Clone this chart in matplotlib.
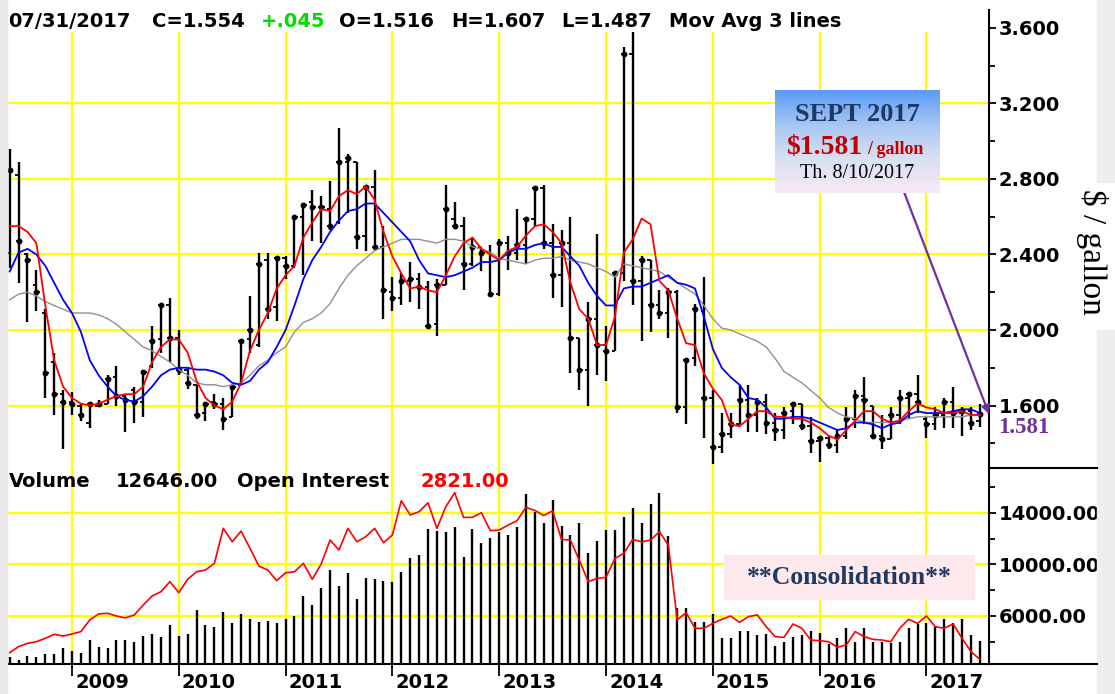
import numpy as np
import pandas as pd
import matplotlib
matplotlib.use('Agg')
import matplotlib.pyplot as plt
from matplotlib import transforms
from matplotlib.colors import LinearSegmentedColormap
from matplotlib.patches import Rectangle

plt.rcParams['font.family'] = ['DejaVu Sans']

# monthly bars, Jun 2008 .. Jul 2017
months = pd.date_range('2008-06-01', periods=110, freq='MS')

open_ = [2.41, 2.82, 2.40, 2.24, 2.09, 1.83, 1.66, 1.62, 1.60, 1.51,
         1.60, 1.61, 1.75, 1.65, 1.68, 1.62, 1.81, 1.95, 2.13, 1.96,
         1.79, 1.71, 1.56, 1.62, 1.61, 1.54, 1.71, 1.95, 1.92, 2.37,
         2.12, 2.38, 2.34, 2.60, 2.68, 2.65, 2.64, 2.57, 2.89, 2.89,
         2.50, 2.76, 2.44, 2.20, 2.17, 2.26, 2.27, 2.23, 2.03, 2.24,
         2.59, 2.55, 2.35, 2.44, 2.41, 2.19, 2.46, 2.41, 2.45, 2.59,
         2.75, 2.46, 2.29, 2.46, 1.96, 1.79, 2.06, 1.92, 1.89, 2.30,
         3.46, 2.26, 2.37, 2.13, 2.09, 2.20, 1.59, 1.85, 2.10, 1.64,
         1.38, 1.45, 1.50, 1.63, 1.55, 1.62, 1.51, 1.47, 1.57, 1.61,
         1.49, 1.41, 1.43, 1.39, 1.44, 1.53, 1.65, 1.60, 1.44, 1.42,
         1.55, 1.64, 1.66, 1.53, 1.50, 1.55, 1.62, 1.56, 1.57, 1.516]
high = [2.96, 2.89, 2.41, 2.32, 2.11, 1.88, 1.68, 1.67, 1.61, 1.62,
        1.63, 1.76, 1.81, 1.66, 1.70, 1.79, 2.02, 2.14, 2.17, 2.00,
        1.80, 1.71, 1.62, 1.66, 1.64, 1.71, 1.95, 2.18, 2.41, 2.41,
        2.38, 2.39, 2.60, 2.67, 2.74, 2.71, 2.79, 3.07, 2.93, 2.89,
        2.76, 2.85, 2.55, 2.28, 2.30, 2.36, 2.30, 2.26, 2.27, 2.77,
        2.68, 2.60, 2.48, 2.44, 2.45, 2.48, 2.50, 2.64, 2.59, 2.75,
        2.77, 2.56, 2.53, 2.60, 1.96, 2.15, 2.51, 2.02, 2.30, 3.50,
        3.58, 2.39, 2.37, 2.21, 2.22, 2.21, 1.85, 2.14, 2.28, 1.68,
        1.56, 1.56, 1.71, 1.71, 1.64, 1.66, 1.56, 1.59, 1.62, 1.61,
        1.54, 1.44, 1.44, 1.47, 1.59, 1.68, 1.75, 1.60, 1.55, 1.59,
        1.68, 1.67, 1.76, 1.54, 1.59, 1.64, 1.70, 1.59, 1.59, 1.607]
low = [2.33, 2.25, 2.04, 2.10, 1.64, 1.55, 1.37, 1.55, 1.52, 1.48,
       1.59, 1.61, 1.60, 1.46, 1.51, 1.54, 1.80, 1.88, 1.83, 1.76,
       1.69, 1.53, 1.52, 1.58, 1.47, 1.54, 1.71, 1.88, 1.91, 2.06,
       2.05, 2.27, 2.33, 2.29, 2.47, 2.46, 2.53, 2.56, 2.62, 2.43,
       2.42, 2.43, 2.06, 2.10, 2.13, 2.15, 2.11, 2.01, 1.97, 2.24,
       2.54, 2.21, 2.34, 2.31, 2.18, 2.18, 2.32, 2.37, 2.35, 2.55,
       2.43, 2.17, 2.12, 1.77, 1.68, 1.60, 1.76, 1.73, 1.89, 2.26,
       2.13, 1.94, 1.99, 2.06, 1.96, 1.56, 1.50, 1.81, 1.43, 1.29,
       1.35, 1.43, 1.50, 1.46, 1.46, 1.45, 1.41, 1.42, 1.50, 1.47,
       1.35, 1.30, 1.37, 1.35, 1.42, 1.48, 1.50, 1.43, 1.37, 1.42,
       1.50, 1.53, 1.56, 1.43, 1.47, 1.48, 1.48, 1.44, 1.47, 1.487]
close = [2.85, 2.47, 2.37, 2.20, 1.77, 1.66, 1.62, 1.61, 1.55, 1.61,
         1.61, 1.74, 1.65, 1.63, 1.62, 1.78, 1.94, 2.13, 1.96, 1.79,
         1.72, 1.55, 1.61, 1.61, 1.53, 1.70, 1.94, 2.00, 2.35, 2.11,
         2.38, 2.34, 2.60, 2.66, 2.65, 2.65, 2.55, 2.89, 2.91, 2.49,
         2.76, 2.44, 2.21, 2.17, 2.26, 2.27, 2.23, 2.02, 2.24, 2.64,
         2.55, 2.35, 2.44, 2.41, 2.19, 2.46, 2.41, 2.45, 2.59, 2.75,
         2.46, 2.29, 2.46, 1.96, 1.79, 2.06, 1.92, 1.89, 2.30, 3.46,
         2.26, 2.37, 2.13, 2.09, 2.20, 1.59, 1.84, 2.11, 1.64, 1.38,
         1.45, 1.50, 1.63, 1.55, 1.62, 1.51, 1.47, 1.56, 1.61, 1.49,
         1.41, 1.43, 1.39, 1.44, 1.53, 1.65, 1.63, 1.44, 1.42, 1.55,
         1.64, 1.66, 1.62, 1.50, 1.55, 1.62, 1.56, 1.57, 1.509, 1.554]

# three moving average lines as drawn on the chart
ma_fast = [2.55, 2.55, 2.52, 2.46, 2.13, 1.84, 1.70, 1.64, 1.61, 1.60,
           1.61, 1.63, 1.65, 1.66, 1.66, 1.70, 1.83, 1.91, 1.95, 1.95,
           1.88, 1.73, 1.64, 1.60, 1.58, 1.62, 1.72, 1.89, 2.00, 2.09,
           2.22, 2.29, 2.34, 2.49, 2.57, 2.64, 2.63, 2.71, 2.74, 2.72,
           2.76, 2.69, 2.52, 2.39, 2.30, 2.22, 2.23, 2.21, 2.20, 2.29,
           2.39, 2.46, 2.49, 2.43, 2.40, 2.37, 2.42, 2.44, 2.50, 2.55,
           2.56, 2.52, 2.46, 2.25, 2.11, 2.06, 1.92, 1.92, 2.07, 2.41,
           2.48, 2.59, 2.56, 2.26, 2.21, 2.06, 1.93, 1.92, 1.77, 1.69,
           1.63, 1.50, 1.49, 1.53, 1.57, 1.57, 1.54, 1.54, 1.53, 1.53,
           1.51, 1.48, 1.44, 1.42, 1.47, 1.52, 1.57, 1.57, 1.53, 1.51,
           1.52, 1.57, 1.61, 1.59, 1.58, 1.56, 1.56, 1.57, 1.55, 1.55]
ma_mid = [2.31, 2.41, 2.43, 2.40, 2.34, 2.25, 2.16, 2.09, 1.99, 1.84,
          1.76, 1.70, 1.65, 1.63, 1.62, 1.65, 1.70, 1.76, 1.79, 1.80,
          1.80, 1.79, 1.79, 1.78, 1.76, 1.72, 1.71, 1.73, 1.79, 1.83,
          1.91, 2.00, 2.13, 2.27, 2.37, 2.44, 2.52, 2.58, 2.63, 2.64,
          2.67, 2.67, 2.62, 2.57, 2.52, 2.47, 2.37, 2.30, 2.29, 2.28,
          2.29, 2.31, 2.33, 2.36, 2.36, 2.37, 2.41, 2.43, 2.43, 2.45,
          2.46, 2.44, 2.44, 2.39, 2.34, 2.25, 2.18, 2.13, 2.13, 2.22,
          2.23, 2.23, 2.25, 2.27, 2.29, 2.25, 2.24, 2.22, 2.07, 1.90,
          1.80, 1.75, 1.71, 1.64, 1.63, 1.59, 1.53, 1.53, 1.54, 1.54,
          1.53, 1.51, 1.49, 1.47, 1.48, 1.51, 1.51, 1.50, 1.48, 1.50,
          1.51, 1.55, 1.57, 1.56, 1.56, 1.56, 1.57, 1.58, 1.58, 1.56]
ma_slow = [2.16, 2.19, 2.20, 2.18, 2.15, 2.13, 2.11, 2.09, 2.09, 2.09,
           2.08, 2.06, 2.03, 1.99, 1.95, 1.91, 1.89, 1.86, 1.83, 1.79,
           1.76, 1.72, 1.71, 1.71, 1.70, 1.71, 1.72, 1.76, 1.81, 1.84,
           1.88, 1.91, 1.99, 2.04, 2.06, 2.09, 2.14, 2.22, 2.29, 2.34,
           2.38, 2.42, 2.44, 2.46, 2.48, 2.48, 2.48, 2.47, 2.46, 2.48,
           2.48, 2.47, 2.44, 2.43, 2.41, 2.38, 2.37, 2.36, 2.35, 2.37,
           2.38, 2.38, 2.39, 2.37, 2.36, 2.35, 2.33, 2.31, 2.28, 2.35,
           2.34, 2.33, 2.32, 2.31, 2.28, 2.25, 2.22, 2.19, 2.13, 2.06,
           2.01, 2.00, 1.98, 1.96, 1.94, 1.91, 1.85, 1.78, 1.75, 1.72,
           1.68, 1.64, 1.59, 1.56, 1.54, 1.53, 1.51, 1.51, 1.51, 1.51,
           1.52, 1.53, 1.54, 1.54, 1.54, 1.54, 1.54, 1.54, 1.55, 1.55]

volume = [2800, 2600, 2930, 2800, 3060, 3060, 3500, 3320, 3160, 4120,
          3630, 3500, 4120, 4120, 4010, 4480, 4580, 4350, 5300, 4480,
          4580, 6460, 5300, 5170, 6340, 5430, 6130, 5770, 5540, 5640,
          5430, 5770, 6000, 7550, 6830, 8140, 9560, 8350, 9300, 7290,
          8970, 8860, 8740, 8610, 9430, 10460, 10720, 12730, 12600, 12530,
          12860, 10590, 12730, 11680, 12010, 12530, 12270, 12860, 15440, 14080,
          13220, 14980, 12970, 12270, 13220, 10850, 11810, 12660, 12660, 13690,
          14390, 13220, 14640, 15490, 12190, 6650, 6590, 5560, 5560, 6160,
          4270, 4270, 4870, 4870, 4530, 4610, 3680, 4010, 4400, 4530,
          4870, 4660, 3830, 4270, 5050, 4010, 5050, 4010, 4010, 3940,
          4010, 5050, 5380, 5480, 5120, 5740, 5430, 5770, 4530, 4070]
open_int = [3160, 3630, 3880, 4010, 4270, 4580, 4450, 4610, 4790, 5690,
            6160, 6210, 6000, 5850, 6080, 6850, 7550, 7880, 8660, 7810,
            8840, 9430, 9560, 10080, 12790, 11750, 12580, 11240, 9870, 9560,
            8740, 9350, 9430, 10080, 8840, 10030, 11880, 11110, 12790, 11750,
            12140, 12790, 11680, 12270, 14930, 13820, 14080, 14770, 12790, 14460,
            15550, 13640, 13640, 14000, 12610, 12660, 13040, 13380, 14410, 14180,
            13780, 14150, 11930, 11880, 10330, 8660, 8920, 8990, 10460, 10850,
            11930, 11750, 11880, 12530, 11500, 5690, 6260, 5050, 5050, 5430,
            5740, 6000, 5510, 5950, 6080, 5170, 4400, 4350, 5380, 5050,
            4140, 4090, 4010, 3580, 3760, 4790, 4400, 4190, 4140, 4010,
            5050, 5740, 5430, 6000, 5170, 5050, 5380, 4270, 3240, 2650]

vol_header = 12646.00
oi_header = 2821.00
price_ticks = [1.6, 2.0, 2.4, 2.8, 3.2, 3.6]
price_minor = [1.4, 1.8, 2.2, 2.6, 3.0, 3.4]
vol_ticks = [6000, 10000, 14000]
vol_minor = [4000, 8000, 12000, 16000]

assert all(len(a) == 110 for a in [open_, high, low, close, ma_fast, ma_mid,
                                   ma_slow, volume, open_int])

W, H = 1115, 694
YELLOW = '#ffff00'
fig = plt.figure(figsize=(W / 100, H / 100), dpi=100)


def box(x0, y0, x1, y1):
    # pixel box (top-left origin) -> figure fraction rect
    return [x0 / W, 1 - y1 / H, (x1 - x0) / W, (y1 - y0) / H]


ax = fig.add_axes(box(7, 10, 989, 468))
axv = fig.add_axes(box(7, 468, 989, 664))

x = np.arange(len(months))
jan = [i for i, m in enumerate(months) if m.month == 1]
xlim = (-0.30, 110.03)

# ---- price panel
ax.set_xlim(*xlim)
ax.set_ylim(1.269, 3.695)
for v in price_ticks[:-1]:
    ax.axhline(v, color=YELLOW, lw=1.6, zorder=0)
for j in jan:
    ax.axvline(j, ymax=0.95, color=YELLOW, lw=1.6, zorder=0)

ax.vlines(x, low, high, color='black', lw=1.7, zorder=3)
ax.hlines(open_, x - 0.38, x, color='black', lw=1.3, zorder=3)
ax.hlines(close, x - 0.3, x + 0.38, color='black', lw=1.3, zorder=3)
ax.plot(x, close, 'o', ms=3.2, color='black', zorder=3)

ax.plot(x, ma_slow, color='#909090', lw=1.0, zorder=4)
ax.plot(x, ma_mid, color='#0000ff', lw=1.3, zorder=5)
ax.plot(x, ma_fast, color='#ff0000', lw=1.3, zorder=6)

ax.yaxis.tick_right()
ax.set_yticks(price_ticks)
ax.set_yticklabels(['%.3f' % v for v in price_ticks], fontweight='bold')
ax.set_yticks(price_minor, minor=True)
ax.tick_params(axis='y', which='major', direction='out', length=5, width=1.3,
               labelsize=14, pad=2)
ax.tick_params(axis='y', which='minor', direction='out', length=4, width=1.3)
ax.tick_params(axis='x', bottom=False, labelbottom=False)

# ---- volume / open interest panel
vbot, vtop = 2282, 17463
axv.set_xlim(*xlim)
axv.set_ylim(vbot, vtop)
for v in vol_ticks:
    axv.axhline(v, color=YELLOW, lw=1.6, zorder=0)
for j in jan:
    axv.axvline(j, color=YELLOW, lw=1.6, zorder=0)

axv.vlines(x, vbot, volume, color='black', lw=1.7, zorder=3)
axv.plot(x, open_int, color='#ff0000', lw=1.2, zorder=4)

axv.yaxis.tick_right()
axv.set_yticks(vol_ticks)
axv.set_yticklabels(['%.2f' % v for v in vol_ticks], fontweight='bold')
axv.set_yticks(vol_minor, minor=True)
axv.tick_params(axis='y', which='major', direction='out', length=5, width=1.3,
                labelsize=14, pad=2)
axv.tick_params(axis='y', which='minor', direction='out', length=4, width=1.3)
axv.set_xticks(jan)
axv.set_xticklabels([])
axv.tick_params(axis='x', direction='out', length=8.5, width=1.3)

blend = transforms.blended_transform_factory(axv.transData, axv.transAxes)
for j in jan:
    axv.text(j + 0.35, -0.092, str(months[j].year), transform=blend,
             fontsize=14, fontweight='bold', ha='left', va='center')

for a in (ax, axv):
    a.set_facecolor('white')
    a.spines['left'].set_visible(False)
    a.spines['top'].set_visible(False)
    a.spines['right'].set_linewidth(1.5)
ax.spines['bottom'].set_visible(False)
axv.spines['bottom'].set_linewidth(1.5)

# ---- overlay in pixel coordinates for headers and call-outs
ov = fig.add_axes([0, 0, 1, 1])
ov.set_xlim(0, W)
ov.set_ylim(H, 0)
ov.axis('off')
ov.patch.set_visible(False)
ov.set_zorder(10)

chg = close[-1] - close[-2]
head = [('%s' % months[-1].strftime('07/31/%Y'), 8, 'black'),
        ('C=%.3f' % close[-1], 152, 'black'),
        (('%+.3f' % chg).replace('0.', '.'), 261, '#00dd00'),
        ('O=%.3f' % open_[-1], 339, 'black'),
        ('H=%.3f' % high[-1], 451, 'black'),
        ('L=%.3f' % low[-1], 561, 'black'),
        ('Mov Avg 3 lines', 669, 'black')]
for s, px, c in head:
    ov.text(px, 21, s, color=c, fontsize=14, fontweight='bold', ha='left', va='center')

for s, px, c in [('Volume', 9, 'black'), ('%.2f' % vol_header, 116, 'black'),
                 ('Open Interest', 237, 'black'), ('%.2f' % oi_header, 421, '#ff0000')]:
    ov.text(px, 481, s, color=c, fontsize=14, fontweight='bold', ha='left', va='center')

# side strips
ov.add_patch(Rectangle((0, 0), 7, H, color='#e9e9e9', zorder=1))
ov.add_patch(Rectangle((1097, 0), 18, 182, color='#eeeeee', zorder=1))
ov.add_patch(Rectangle((1097, 330), 18, H - 330, color='#eeeeee', zorder=1))
ov.plot([989, 1097], [664, 664], color='black', lw=1.5, zorder=2)
ov.plot([989, 1097], [468, 468], color='black', lw=1.5, zorder=2)

ov.text(1092, 252, '$ / gallon', rotation=270, fontsize=24, family='Liberation Serif',
        ha='center', va='center', zorder=3)

# contract call-out
cmap = LinearSegmentedColormap.from_list('callout', ['#5a9afa', '#a6c6f2', '#d9e0f2', '#f8e8f6'])
ov.imshow(np.linspace(0, 1, 100).reshape(-1, 1), cmap=cmap, aspect='auto',
          extent=(775, 940, 193, 90), zorder=3)
ov.set_xlim(0, W)
ov.set_ylim(H, 0)
ov.annotate('', xy=(989, 414), xytext=(904, 192),
            arrowprops=dict(arrowstyle='-|>', color='#7030a0', lw=1.6,
                            mutation_scale=12, shrinkA=0, shrinkB=0), zorder=2)
ov.text(857, 121, 'SEPT 2017', color='#1f3864', fontsize=19, fontweight='bold',
        family='Liberation Serif', ha='center', va='baseline', zorder=4)
ov.text(862, 154, '$1.581', color='#c00000', fontsize=20, fontweight='bold',
        family='Liberation Serif', ha='right', va='baseline', zorder=4)
ov.text(867, 154, '/ gallon', color='#c00000', fontsize=13, fontweight='bold',
        family='Liberation Serif', ha='left', va='baseline', zorder=4)
ov.text(857, 173, 'Th. 8/10/2017', color='black', fontsize=14.5,
        family='Liberation Serif', ha='center', va='center', zorder=4)
ov.text(998, 427, '1.581', color='#7030a0', fontsize=16.5, fontweight='bold',
        family='Liberation Serif', ha='left', va='center', zorder=4)

ov.add_patch(Rectangle((724, 555), 250, 44, color='#fde9ec', zorder=3))
ov.text(849, 578, '**Consolidation**', color='#1f3864', fontsize=18.5, fontweight='bold',
        family='Liberation Serif', ha='center', va='center', zorder=4)

fig.savefig('out.png', dpi=100)
